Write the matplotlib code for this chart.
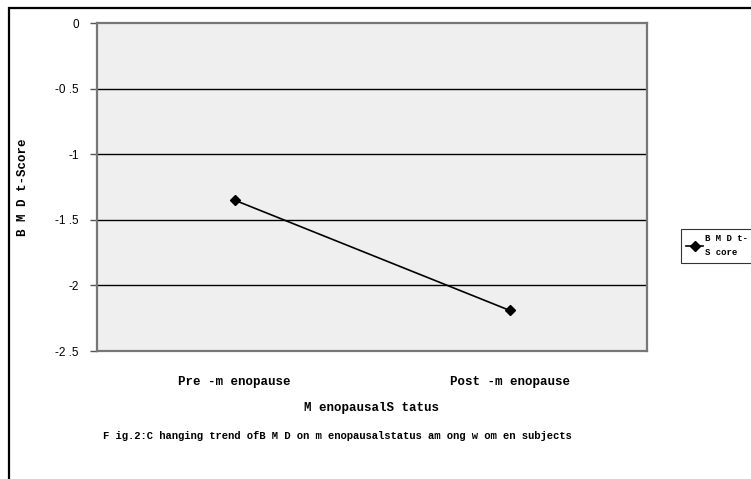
import matplotlib.pyplot as plt
from matplotlib.patches import Rectangle

# BMD t-score by menopausal status
status = ['Pre -m enopause', 'Post -m enopause']
bmd_tscore = [-1.35, -2.19]
yticks = [0, -0.5, -1, -1.5, -2, -2.5]
ytick_labels = ['0', '-0 .5', '-1', '-1 .5', '-2', '-2 .5']

W, H = 751, 479
fig = plt.figure(figsize=(W / 100, H / 100), dpi=100)

mono = 'Liberation Mono'
sans = 'Liberation Sans'

# plot area in pixel terms
left, top, right, bottom = 97, 23, 647, 351
ax = fig.add_axes([left / W, 1 - bottom / H, (right - left) / W, (bottom - top) / H])
ax.set_facecolor('#efefef')

x = list(range(len(status)))
ax.plot(x, bmd_tscore, color='black', lw=1.2, marker='D', ms=5, label='B M D t-\nS core', zorder=3)

ax.set_xlim(-0.5, len(status) - 0.5)
ax.set_ylim(-2.5, 0)
ax.set_yticks(yticks)
ax.set_yticklabels(ytick_labels, fontfamily=sans, fontsize=8.5)
ax.set_xticks(x)
ax.set_xticklabels(status, fontfamily=mono, fontsize=9, fontweight='bold')
ax.tick_params(axis='x', length=0, pad=18)
ax.tick_params(axis='y', length=5, width=1, color='#555555', pad=8)

for v in yticks[1:-1]:
    ax.axhline(v, color='black', lw=1, zorder=1)

for side in ['left', 'top', 'right', 'bottom']:
    ax.spines[side].set_color('#777777')
    ax.spines[side].set_linewidth(1.6)

ax.set_xlabel('M enopausalS tatus', fontfamily=mono, fontsize=9, fontweight='bold', labelpad=10)
ax.set_ylabel('B M D t-Score', fontfamily=mono, fontsize=9, fontweight='bold')
ax.yaxis.set_label_coords((29 - left) / (right - left), 0.5)

fig.text(337 / W, 1 - 436 / H,
         'F ig.2:C hanging trend ofB M D on m enopausalstatus am ong w om en subjects',
         fontfamily=mono, fontsize=7.6, fontweight='bold', ha='center', va='center')

leg = fig.legend(loc='upper left', bbox_to_anchor=(681 / W, 1 - 229 / H),
                 prop={'family': mono, 'size': 6.5, 'weight': 'bold'},
                 frameon=True, fancybox=False, handlelength=1.8, borderpad=0.6,
                 handletextpad=0.3, borderaxespad=0)
for t in leg.get_texts():
    t.set_linespacing(1.7)
leg.get_frame().set_edgecolor('black')
leg.get_frame().set_linewidth(0.8)

# outer chart border
fig.add_artist(Rectangle((9 / W, -0.1), 1.2, 1 - 8 / H + 0.1, transform=fig.transFigure,
                         fill=False, edgecolor='black', lw=1.6))

fig.savefig('out.png', dpi=100)
